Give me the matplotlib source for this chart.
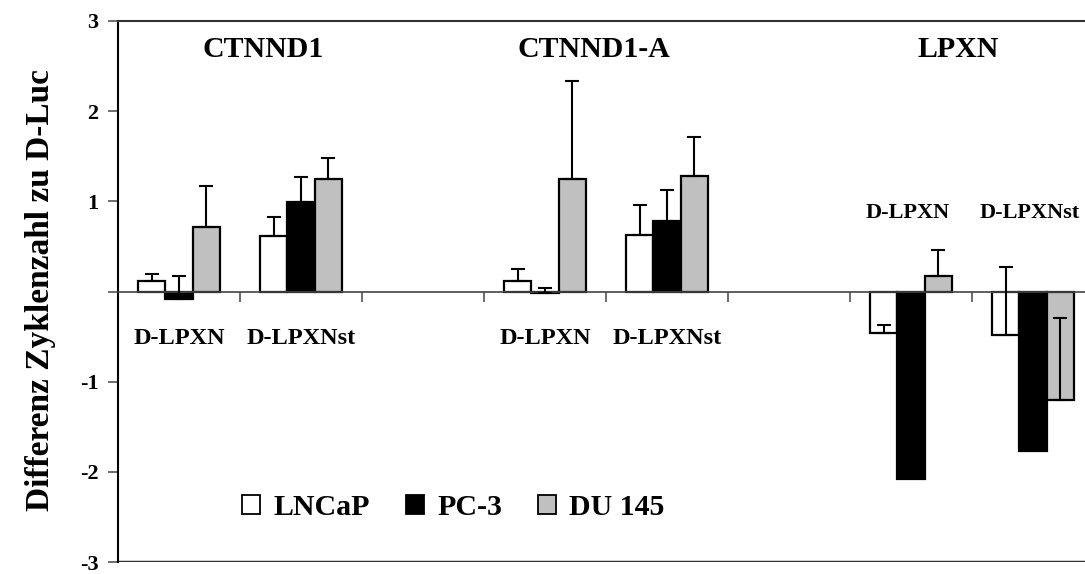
import numpy as np
import matplotlib
matplotlib.use("Agg")
import matplotlib.pyplot as plt
from matplotlib.patches import Patch

plt.rcParams['font.family'] = ['Liberation Serif', 'DejaVu Serif']
plt.rcParams['font.weight'] = 'bold'

# Kategorien (x-Positionen 0..7, 2 und 5 sind Lücken)
cat_pos = [0, 1, 3, 4, 6, 7]
cat_labels = ["D-LPXN", "D-LPXNst", "D-LPXN", "D-LPXNst", "D-LPXN", "D-LPXNst"]
genes = ["CTNND1", "CTNND1-A", "LPXN"]

# Werte je Zelllinie
lncap = [0.12, 0.61, 0.12, 0.63, -0.46, -0.48]
pc3 = [-0.08, 0.99, -0.02, 0.78, -2.08, -1.77]
du145 = [0.71, 1.25, 1.25, 1.28, 0.17, -1.20]

# Fehler (nur nach oben)
lncap_err = [0.07, 0.22, 0.13, 0.33, 0.09, 0.75]
pc3_err = [0.25, 0.28, 0.06, 0.35, np.nan, np.nan]
du145_err = [0.46, 0.23, 1.09, 0.43, 0.29, 0.91]

series = [
    ("LNCaP", lncap, lncap_err, "white"),
    ("PC-3", pc3, pc3_err, "black"),
    ("DU 145", du145, du145_err, "#c0c0c0"),
]

fig = plt.figure(figsize=(10.85, 5.74), dpi=100)
ax = fig.add_axes([118 / 1085, 12 / 574, 976 / 1085, 541 / 574])

w = 0.224
x = np.array(cat_pos, dtype=float)
for i, (name, vals, errs, col) in enumerate(series):
    xs = x + (i - 1) * w
    ax.bar(xs, vals, width=w, color=col, edgecolor="black", linewidth=1.6, zorder=2)
    errs = np.array(errs, dtype=float)
    ok = ~np.isnan(errs)
    ax.errorbar(xs[ok], np.array(vals)[ok], yerr=[np.zeros(ok.sum()), errs[ok]],
                fmt="none", ecolor="black", elinewidth=1.5, capsize=5, capthick=1.5, zorder=3)

ax.set_xlim(-0.5, 7.5)
ax.set_ylim(-3, 3)

# Nulllinie als x-Achse
ax.spines['bottom'].set_position(('data', 0))
ax.spines['bottom'].set_color('#444444')
ax.spines['bottom'].set_linewidth(1.2)
ax.spines['right'].set_visible(False)
ax.spines['top'].set_color('#333333')
ax.spines['top'].set_linewidth(1.5)
ax.spines['left'].set_linewidth(1.5)
ax.axhline(-3, color='#333333', linewidth=2.5, zorder=1)

ax.set_xticks(np.arange(0.5, 7.5, 1.0))
ax.set_xticklabels([])
ax.tick_params(axis='x', direction='out', length=7, color='#555555', width=1.2)
ax.set_yticks([-3, -2, -1, 0, 1, 2, 3])
ax.set_yticklabels(["-3", "-2", "-1", "", "1", "2", "3"], fontsize=16, fontweight='bold')
ax.tick_params(axis='y', direction='out', length=7, width=1.2, color='#555555', pad=7)

# Beschriftungen
for p, lab in zip(cat_pos, cat_labels):
    if p >= 6:
        # LPXN: Beschriftung oberhalb
        ax.text(p - 0.03, 0.87, lab, ha='center', va='center', fontsize=16, fontweight='bold')
    else:
        ax.text(p, -0.52, lab, ha='center', va='center', fontsize=17.5, fontweight='bold')

for gx, g in zip([0.69, 3.40, 6.39], genes):
    ax.text(gx, 2.68, g, ha='center', va='center', fontsize=21.5, fontweight='bold')

fig.text(0.037, 0.495, "Differenz Zyklenzahl zu D-Luc", rotation=90,
         ha='center', va='center', fontsize=24, fontweight='bold')

handles = [Patch(facecolor=c, edgecolor='black', linewidth=1.3, label=n) for n, _, _, c in series]
ax.legend(handles=handles, loc='center left', bbox_to_anchor=(0.115, 0.100), ncol=3,
          frameon=False, fontsize=21.5, handlelength=0.6, handleheight=0.6,
          handletextpad=0.45, columnspacing=1.2, borderaxespad=0)

fig.savefig("out.png", dpi=100)
